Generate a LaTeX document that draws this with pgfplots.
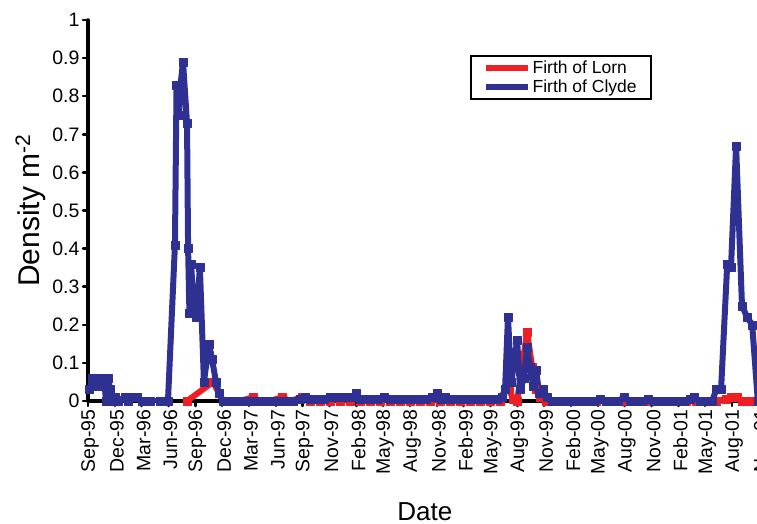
\documentclass[border=0pt]{standalone}
\usepackage{pgfplots}
\usepackage{pgfplotstable}
\pgfplotsset{compat=1.18}
\usepackage{fontspec}
\setmainfont{Liberation Sans}

\definecolor{lorn}{RGB}{237,30,36}
\definecolor{clyde}{RGB}{46,49,146}

% x = sampling date in tick intervals (0 = Sep-95, 1 = Dec-95, ...)
\pgfplotstableread{
x y
3.69 0
4.66 0.05
5.03 0
5.29 0
5.67 0
6.15 0.01
6.41 0
6.78 0
7.23 0.01
7.53 0
7.98 0.01
8.27 0
8.65 0
9.02 0
9.39 0
9.76 0
10.14 0
10.51 0
10.88 0
11.26 0
11.63 0
12.00 0
12.37 0
12.75 0
13.12 0
13.49 0
13.86 0
14.24 0
14.61 0
14.98 0
15.36 0
15.54 0.03
15.69 0.03
15.84 0.005
15.99 0
16.36 0.18
16.55 0.09
16.70 0.03
16.85 0.01
17.07 0
17.44 0
17.82 0
18.19 0
18.56 0
18.93 0
19.31 0
19.68 0
20.05 0
20.42 0
20.80 0
21.17 0
21.54 0
21.92 0
22.29 0
22.66 0
23.03 0
23.41 0
23.78 0.005
23.96 0.01
24.19 0.01
24.37 0
24.60 0
24.78 0
24.97 0
}\lorn

\pgfplotstableread{
x y
0.04 0.03
0.15 0.06
0.26 0.04
0.37 0.06
0.48 0.04
0.60 0.06
0.67 0.0
0.75 0.06
0.82 0.03
0.89 0.0
1.01 0.01
1.12 0.0
1.38 0.01
1.49 0.0
1.64 0.01
1.83 0.01
2.01 0.0
2.31 0.0
2.68 0.0
2.98 0.0
3.24 0.41
3.30 0.83
3.39 0.75
3.45 0.83
3.54 0.89
3.69 0.73
3.73 0.40
3.78 0.23
3.84 0.36
3.95 0.24
4.04 0.22
4.17 0.35
4.32 0.05
4.51 0.15
4.62 0.11
4.77 0.05
4.88 0.02
5.03 0
5.29 0
5.55 0
5.81 0
6.07 0
6.34 0
6.60 0
6.86 0
7.12 0
7.38 0
7.64 0
7.90 0.005
8.09 0.01
8.27 0.005
8.53 0.005
8.80 0.005
9.02 0.01
9.24 0.01
9.47 0.01
9.69 0.01
9.84 0.01
9.99 0.02
10.14 0.005
10.36 0.005
10.58 0.005
10.81 0.005
11.03 0.01
11.26 0.005
11.48 0.005
11.70 0.005
11.93 0.005
12.15 0.005
12.37 0.005
12.60 0.005
12.82 0.01
13.01 0.02
13.16 0.005
13.31 0.01
13.45 0.005
13.68 0.005
13.90 0.005
14.13 0.005
14.35 0.005
14.57 0.005
14.80 0.005
15.02 0.005
15.24 0.005
15.43 0.01
15.54 0.03
15.65 0.22
15.77 0.05
15.88 0.10
15.99 0.16
16.10 0.03
16.25 0.06
16.36 0.14
16.47 0.09
16.59 0.04
16.70 0.08
16.81 0.02
16.96 0.03
17.11 0.01
17.29 0
17.52 0
17.74 0
17.96 0
18.19 0
18.41 0
18.64 0
18.86 0
19.08 0.005
19.31 0
19.53 0
19.75 0
19.98 0.01
20.20 0
20.42 0
20.65 0
20.87 0.005
21.09 0
21.32 0
21.54 0
21.77 0
21.99 0
22.21 0
22.44 0.005
22.59 0.01
22.81 0
23.03 0
23.26 0
23.41 0.03
23.59 0.03
23.82 0.36
23.96 0.35
24.15 0.67
24.37 0.25
24.56 0.22
24.75 0.20
24.96 0
}\clyde

\begin{document}
\begin{tikzpicture}
\begin{axis}[
  name=ax,
  scale only axis,
  width=670.9pt, height=381pt,
  xmin=0, xmax=25, ymin=0, ymax=1,
  axis lines=left,
  axis line style={-, black, line width=3.5pt, line cap=round},
  tick align=outside,
  major tick length=5pt,
  tick style={black, line width=2.5pt, line cap=round},
  xtick={0,...,25},
  xticklabels={Sep-95,Dec-95,Mar-96,Jun-96,Sep-96,Dec-96,Mar-97,Jun-97,Sep-97,Nov-97,Feb-98,May-98,Aug-98,Nov-98,Feb-99,May-99,Aug-99,Nov-99,Feb-00,May-00,Aug-00,Nov-00,Feb-01,May-01,Aug-01,Nov-01},
  ytick={0,0.1,0.2,0.3,0.4,0.5,0.6,0.7,0.8,0.9,1},
  /pgf/number format/assume math mode=true,
  xticklabel style={rotate=90, anchor=east, yshift=-2pt, font=\fontsize{19.5}{21}\selectfont},
  yticklabel style={font=\fontsize{19.5}{21}\selectfont},
  xlabel={Date},
  ylabel={Density m\textsuperscript{-2}},
  xlabel style={font=\fontsize{26}{28}\selectfont, at={(axis description cs:0.502,-0.291)}, anchor=center},
  ylabel style={font=\fontsize{30}{32}\selectfont, at={(axis description cs:-0.086,0.5)}, anchor=center},
  legend style={at={(axis description cs:0.569,0.908)}, anchor=north west,
    draw=black, line width=1.8pt, fill=white,
    font=\fontsize{17.5}{19}\selectfont,
    inner xsep=12pt, inner ysep=4pt, row sep=3pt,
    nodes={inner ysep=1pt, font=\fontsize{17.5}{19}\selectfont},
    /tikz/every even column/.append style={column sep=4pt}},
  legend cell align=left,
  legend image code/.code={%
    \path (-7pt,0pt) -- (35pt,0pt);
    \draw[#1, mark=none, line width=6pt, line cap=round] (0pt,0pt) -- (30pt,0pt);},
  every axis plot/.append style={line width=6pt, line join=round,
    mark=square*, mark size=4pt, mark options={line width=0.4pt}},
]
\addplot[color=lorn] table[x=x, y=y] {\lorn};
\addlegendentry{Firth of Lorn}
\addplot[color=clyde] table[x=x, y=y] {\clyde};
\addlegendentry{Firth of Clyde\hspace{15pt}}
\end{axis}
\pgfresetboundingbox
\path[use as bounding box] ([xshift=-88pt,yshift=-123pt]ax.south west) rectangle ([xshift=669pt,yshift=401pt]ax.south west);
\end{tikzpicture}
\end{document}
